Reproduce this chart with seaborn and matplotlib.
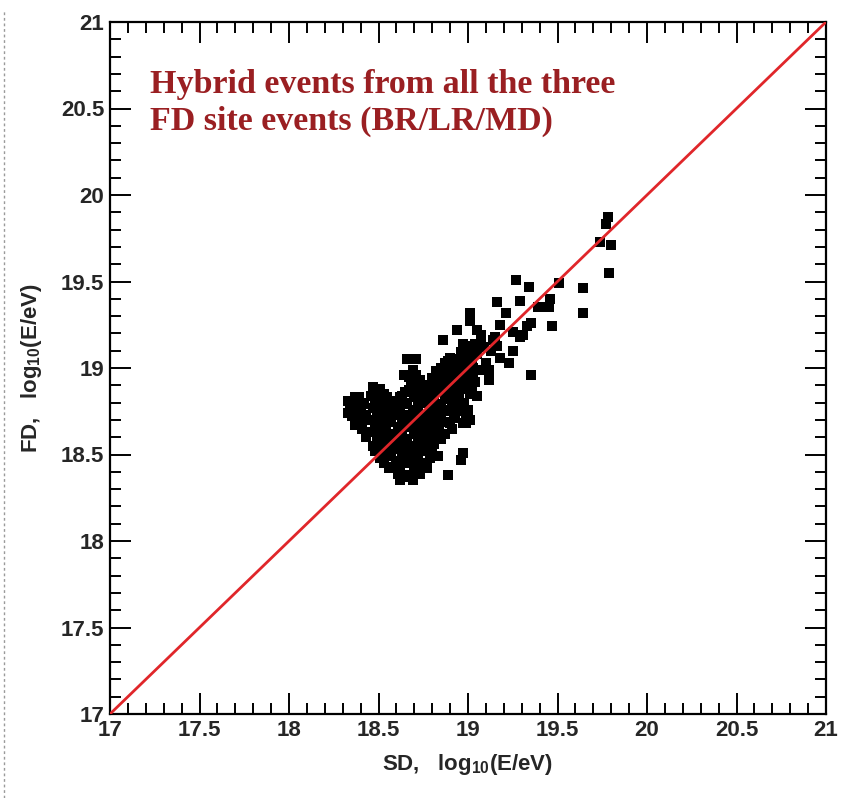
import matplotlib
matplotlib.use("Agg")
import matplotlib.pyplot as plt
from matplotlib.lines import Line2D
from matplotlib.ticker import MultipleLocator
import seaborn as sns
import pandas as pd

# Hybrid events: SD energy vs FD energy, log10(E/eV)
sd_energy = [
    19.78, 19.77, 19.74, 19.80, 19.79, 19.64, 19.64, 19.47, 19.51, 19.46,
    19.45, 19.40, 19.35, 19.27, 19.34, 19.29, 19.16, 19.21, 19.01, 19.01,
    19.18, 18.94, 18.86, 19.07, 19.14, 19.31, 19.33, 19.25, 19.23, 19.18,
    19.12, 19.12, 19.06, 18.90, 19.01, 18.66, 18.71, 18.64, 18.47, 18.39,
    18.34, 18.33, 18.40, 18.49, 18.63, 18.97, 18.89, 18.83, 18.62, 18.68,
    18.99, 19.39, 19.35, 19.05, 19.07, 19.15, 19.25, 19.29, 18.97,
    18.33,
    18.37, 18.36, 18.38, 18.37,
    18.42, 18.43, 18.41, 18.43,
    18.46, 18.47, 18.45, 18.46, 18.47,
    18.51, 18.52, 18.51, 18.50, 18.52, 18.51,
    18.55, 18.56, 18.55, 18.54, 18.56, 18.55, 18.56,
    18.60, 18.59, 18.61, 18.60, 18.59, 18.60, 18.61,
    18.65, 18.64, 18.65, 18.63, 18.64, 18.65, 18.64, 18.65,
    18.69, 18.68, 18.70, 18.69, 18.68, 18.70, 18.69, 18.68, 18.70, 18.69,
    18.73, 18.74, 18.72, 18.73, 18.74, 18.73, 18.72, 18.74, 18.73,
    18.78, 18.77, 18.79, 18.78, 18.77, 18.78, 18.79, 18.77,
    18.82, 18.83, 18.81, 18.82, 18.83, 18.82, 18.81, 18.83,
    18.87, 18.86, 18.88, 18.87, 18.86, 18.88, 18.87,
    18.91, 18.92, 18.90, 18.91, 18.92, 18.91,
    18.96, 18.95, 18.97, 18.96, 18.95, 18.96, 18.97,
    19.00, 19.01, 18.99, 19.00, 19.01, 19.00, 19.01,
    19.04, 19.05, 19.03, 19.04, 19.05,
    18.96,
    18.35, 18.35,
    18.40, 18.40, 18.41,
    18.48, 18.48, 18.49, 18.48, 18.49, 18.48,
    18.53, 18.53, 18.54, 18.53, 18.53, 18.54, 18.53,
    18.58, 18.58, 18.57, 18.58, 18.58, 18.57, 18.58,
    18.62, 18.62, 18.63, 18.62, 18.62, 18.63, 18.62, 18.63,
    18.67, 18.67, 18.66, 18.67, 18.67, 18.66, 18.67, 18.67, 18.66,
    18.71, 18.71, 18.72, 18.71, 18.71, 18.72, 18.71, 18.71, 18.72,
    18.76, 18.76, 18.75, 18.76, 18.76, 18.75, 18.76,
    18.80, 18.80, 18.81, 18.80, 18.80, 18.81, 18.80,
    18.85, 18.85, 18.84, 18.85, 18.85, 18.84, 18.85,
    18.89, 18.89, 18.90, 18.89, 18.89, 18.90,
    18.94, 18.94, 18.93, 18.94, 18.94, 18.93,
    18.98, 18.98, 18.99, 18.98, 18.98, 18.99,
    19.02, 19.02, 19.03, 19.02,
    19.09, 19.13, 19.10, 19.16,
]
fd_energy = [
    19.87, 19.83, 19.73, 19.71, 19.55, 19.46, 19.32, 19.24, 19.49, 19.40,
    19.35, 19.35, 18.96, 19.51, 19.47, 19.39, 19.38, 19.32, 19.32, 19.27,
    19.25, 19.22, 19.16, 19.19, 19.16, 19.19, 19.24, 19.10, 19.03, 19.06,
    18.99, 18.93, 18.99, 19.06, 19.10, 19.05, 19.05, 18.96, 18.89, 18.83,
    18.77, 18.74, 18.72, 18.83, 18.84, 18.51, 18.38, 18.49, 18.35, 18.37,
    18.68, 19.35, 19.26, 19.22, 19.18, 19.18, 19.21, 19.18, 19.14,
    18.81,
    18.83, 18.77, 18.72, 18.67,
    18.79, 18.73, 18.65, 18.60,
    18.84, 18.77, 18.70, 18.63, 18.55,
    18.88, 18.75, 18.68, 18.61, 18.54, 18.48,
    18.83, 18.77, 18.70, 18.63, 18.56, 18.49, 18.42,
    18.80, 18.73, 18.66, 18.60, 18.53, 18.46, 18.39,
    18.86, 18.79, 18.72, 18.65, 18.58, 18.51, 18.45, 18.37,
    18.99, 18.91, 18.83, 18.76, 18.69, 18.62, 18.55, 18.48, 18.41, 18.35,
    18.93, 18.85, 18.78, 18.71, 18.64, 18.57, 18.50, 18.43, 18.39,
    18.90, 18.83, 18.76, 18.69, 18.62, 18.55, 18.48, 18.42,
    18.98, 18.91, 18.84, 18.77, 18.70, 18.63, 18.56, 18.49,
    19.03, 18.97, 18.90, 18.83, 18.76, 18.69, 18.62,
    19.00, 18.93, 18.86, 18.79, 18.72, 18.65,
    19.09, 19.02, 18.95, 18.88, 18.82, 18.75, 18.68,
    19.13, 19.06, 18.99, 18.92, 18.85, 18.76, 18.70,
    19.14, 19.08, 19.00, 18.92, 18.84,
    18.47,
    18.79, 18.72,
    18.80, 18.75, 18.69,
    18.86, 18.80, 18.73, 18.66, 18.59, 18.52,
    18.85, 18.79, 18.72, 18.65, 18.58, 18.51, 18.45,
    18.81, 18.75, 18.69, 18.62, 18.56, 18.50, 18.43,
    18.83, 18.76, 18.69, 18.62, 18.55, 18.48, 18.42, 18.37,
    18.95, 18.87, 18.80, 18.73, 18.66, 18.59, 18.52, 18.45, 18.38,
    18.96, 18.88, 18.81, 18.74, 18.67, 18.60, 18.53, 18.46, 18.40,
    18.87, 18.80, 18.73, 18.66, 18.59, 18.52, 18.45,
    18.94, 18.87, 18.80, 18.73, 18.66, 18.59, 18.52,
    19.00, 18.93, 18.86, 18.79, 18.72, 18.66, 18.59,
    19.04, 18.96, 18.89, 18.82, 18.75, 18.68,
    19.05, 18.98, 18.91, 18.85, 18.78, 18.71,
    19.11, 19.04, 18.97, 18.90, 18.80, 18.72,
    19.10, 19.03, 18.96, 18.88,
    19.12, 19.10, 19.03, 19.13,
]

# Equal-energy reference line
diag_x = [17.0, 21.0]
diag_y = [17.0, 21.0]

axis_min, axis_max = 17.0, 21.0
tick_values = [17, 17.5, 18, 18.5, 19, 19.5, 20, 20.5, 21]
tick_labels = ["17", "17.5", "18", "18.5", "19", "19.5", "20", "20.5", "21"]

title_lines = ["Hybrid events from all the three", "FD site events (BR/LR/MD)"]

sns.set_style("ticks")
plt.rcParams["font.family"] = ["Liberation Sans", "DejaVu Sans"]
plt.rcParams["mathtext.fontset"] = "custom"
plt.rcParams["mathtext.rm"] = "Liberation Sans:bold"
plt.rcParams["mathtext.it"] = "Liberation Sans:bold"
plt.rcParams["mathtext.bf"] = "Liberation Sans:bold"

W, H = 848, 798
fig = plt.figure(figsize=(W / 100, H / 100), dpi=100)
ax = fig.add_axes([110 / W, 1 - 714 / H, (826 - 110) / W, (714 - 22) / H])

df = pd.DataFrame({"SD": sd_energy, "FD": fd_energy})
sns.scatterplot(data=df, x="SD", y="FD", ax=ax, marker="s", s=62,
                color="black", linewidth=0, zorder=2)
sns.lineplot(x=diag_x, y=diag_y, ax=ax, color="#e0262a", linewidth=2.0,
             zorder=3)

ax.set_xlim(axis_min, axis_max)
ax.set_ylim(axis_min, axis_max)
ax.set_xticks(tick_values)
ax.set_xticklabels(tick_labels)
ax.set_yticks(tick_values)
ax.set_yticklabels(tick_labels)
ax.xaxis.set_minor_locator(MultipleLocator(0.1))
ax.yaxis.set_minor_locator(MultipleLocator(0.1))
ax.tick_params(which="both", direction="in", top=True, right=True,
               width=1.4, color="black")
ax.tick_params(which="major", length=15, labelsize=16, pad=4)
ax.tick_params(which="minor", length=8)
for lab in ax.get_xticklabels() + ax.get_yticklabels():
    lab.set_fontweight("bold")
for sp in ax.spines.values():
    sp.set_linewidth(1.6)
    sp.set_color("black")

ax.set_xlabel("SD,   log$_{10}$(E/eV)", fontsize=16, fontweight="bold",
              labelpad=8)
ax.set_ylabel("FD,   log$_{10}$(E/eV)", fontsize=16, fontweight="bold",
              labelpad=12)

for i, line in enumerate(title_lines):
    fig.text(150 / W, 1 - (93 + 37 * i) / H, line, color="#9a1f22",
             fontsize=24.5, fontweight="bold", va="baseline", ha="left",
             family=["Liberation Serif", "DejaVu Serif"])

# dotted margin line at the left edge
fig.add_artist(Line2D([4 / W, 4 / W], [0, 1 - 10 / H],
                      transform=fig.transFigure, color="#9a9a9a",
                      linewidth=1.0, linestyle=(0, (2, 2))))

fig.savefig("out.png", dpi=100)
